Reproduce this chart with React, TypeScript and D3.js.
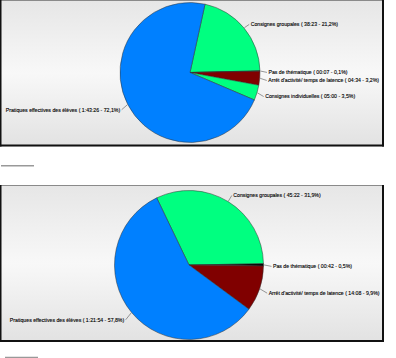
import React from "react";
import * as d3 from "d3";

const pie1Categories = [
  "Consignes groupales",
  "Pas de thématique",
  "Arrêt d'activité/ temps de latence",
  "Consignes individuelles",
  "Pratiques effectives des élèves",
];
const pie1Times = ["38:23", "00:07", "04:34", "05:00", "1:43:26"];
const pie1Percent = [21.2, 0.1, 3.2, 3.5, 72.1];

const pie2Categories = [
  "Consignes groupales",
  "Pas de thématique",
  "Arrêt d'activité/ temps de latence",
  "Pratiques effectives des élèves",
];
const pie2Times = ["45:22", "00:42", "14:08", "1:21:54"];
const pie2Percent = [31.9, 0.5, 9.9, 57.8];

const colorMap: Record<string, string> = {
  "Consignes groupales": "#00FF80",
  "Pas de thématique": "#000000",
  "Arrêt d'activité/ temps de latence": "#800000",
  "Consignes individuelles": "#00FF80",
  "Pratiques effectives des élèves": "#0080FF",
};

type Item = { cat: string; time: string; pct: number };

function fmt(d: Item) {
  return `${d.cat} ( ${d.time} - ${d.pct.toFixed(1).replace(".", ",")}%)`;
}

function PiePanel({
  items,
  cx,
  cy,
  r,
  startDeg,
  labelGap,
  panel,
  gradId,
  underline,
}: {
  items: Item[];
  cx: number;
  cy: number;
  r: number;
  startDeg: number;
  labelGap: number;
  panel: { x: number; y: number; w: number; h: number };
  gradId: string;
  underline: { x1: number; x2: number; y: number };
}) {
  const start = (startDeg * Math.PI) / 180;
  const pie = d3
    .pie<Item>()
    .sort(null)
    .value((d) => d.pct)
    .startAngle(start)
    .endAngle(start + 2 * Math.PI);
  const arcs = pie(items);
  const arc = d3.arc<d3.PieArcDatum<Item>>().innerRadius(0).outerRadius(r);

  const labels = arcs.map((a) => {
    const mid = (a.startAngle + a.endAngle) / 2;
    const s = Math.sin(mid);
    const c = Math.cos(mid);
    return {
      a,
      side: s >= 0 ? 1 : -1,
      px: s * (r + 0.5),
      py: -c * (r + 0.5),
      qx: s * (r + labelGap),
      qy: -c * (r + labelGap) + 1.5,
    };
  });
  [1, -1].forEach((side) => {
    const ls = labels.filter((l) => l.side === side).sort((a, b) => a.qy - b.qy);
    for (let i = 1; i < ls.length; i++) {
      if (ls[i].qy < ls[i - 1].qy + 8) ls[i].qy = ls[i - 1].qy + 8;
    }
  });

  return (
    <g>
      <rect x={panel.x} y={panel.y} width={panel.w} height={panel.h} fill={`url(#${gradId})`} />
      <line x1={panel.x} y1={panel.y + 0.5} x2={panel.x + panel.w} y2={panel.y + 0.5} stroke="#8a8a8a" strokeWidth={1} />
      <line x1={panel.x + 0.75} y1={panel.y} x2={panel.x + 0.75} y2={panel.y + panel.h} stroke="#111" strokeWidth={1.5} />
      <line x1={panel.x + panel.w - 1} y1={panel.y} x2={panel.x + panel.w - 1} y2={panel.y + panel.h} stroke="#111" strokeWidth={2} />
      <line x1={panel.x} y1={panel.y + panel.h - 1} x2={panel.x + panel.w} y2={panel.y + panel.h - 1} stroke="#111" strokeWidth={2} />
      <g transform={`translate(${cx},${cy})`}>
        {arcs.map((a, i) => (
          <path key={i} d={arc(a) || ""} fill={colorMap[a.data.cat]} stroke="#333" strokeWidth={0.5} />
        ))}
        {labels.map((l, i) => (
          <g key={i}>
            <line x1={l.px} y1={l.py} x2={l.qx - l.side * 1} y2={l.qy} stroke="#555" strokeWidth={0.6} />
            <text
              x={l.qx + l.side * 0.5}
              y={l.qy}
              dy="0.35em"
              textAnchor={l.side > 0 ? "start" : "end"}
              fontFamily="'Liberation Sans', Arial, sans-serif"
              fontSize={5.2}
              fill="#000"
              stroke="#000"
              strokeWidth={0.12}
            >
              {fmt(l.a.data)}
            </text>
          </g>
        ))}
      </g>
      <line x1={underline.x1} y1={underline.y} x2={underline.x2} y2={underline.y} stroke="#999" strokeWidth={1.5} />
    </g>
  );
}

export default function App() {
  const items1: Item[] = pie1Categories.map((c, i) => ({ cat: c, time: pie1Times[i], pct: pie1Percent[i] }));
  const items2: Item[] = pie2Categories.map((c, i) => ({ cat: c, time: pie2Times[i], pct: pie2Percent[i] }));
  return (
    <svg width={396} height={358} style={{ position: "absolute", left: 0, top: 0, background: "#fff" }}>
      <defs>
        {["g1", "g2"].map((id) => (
          <linearGradient key={id} id={id} x1="0" y1="0" x2="0" y2="1">
            <stop offset="0%" stopColor="#e6e6e6" />
            <stop offset="50%" stopColor="#f8f8f8" />
            <stop offset="100%" stopColor="#e2e2e2" />
          </linearGradient>
        ))}
      </defs>
      <PiePanel
        items={items1}
        cx={190}
        cy={72.5}
        r={70}
        startDeg={12.4}
        labelGap={8}
        panel={{ x: 0, y: 0, w: 384, h: 146.5 }}
        gradId="g1"
        underline={{ x1: 1, x2: 34, y: 165.7 }}
      />
      <PiePanel
        items={items2}
        cx={189}
        cy={265}
        r={74.5}
        startDeg={-25.7}
        labelGap={9}
        panel={{ x: 0, y: 185, w: 384, h: 157 }}
        gradId="g2"
        underline={{ x1: 5, x2: 38, y: 357.5 }}
      />
    </svg>
  );
}
